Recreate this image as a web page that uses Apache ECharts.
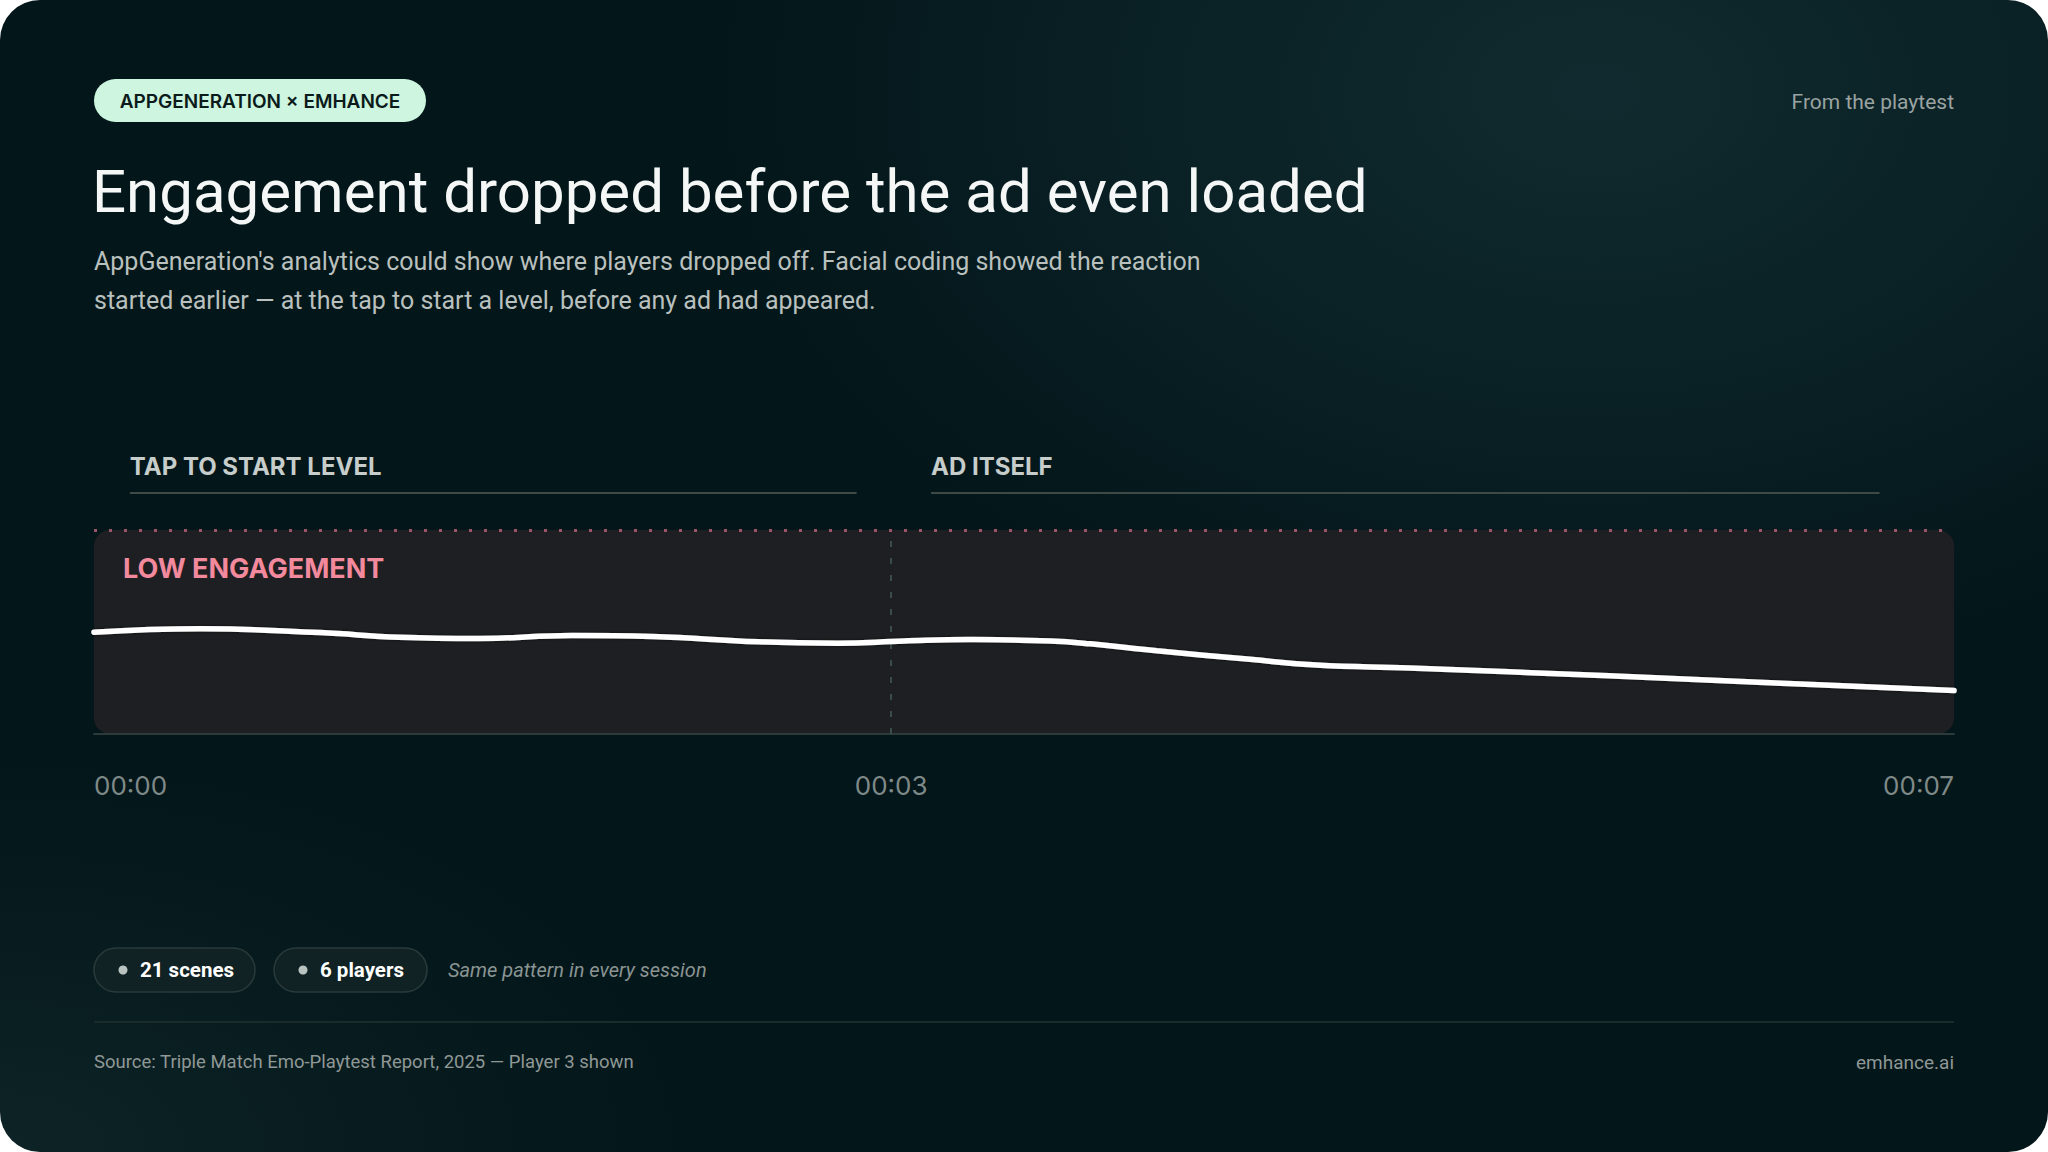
<!DOCTYPE html>
<html>
<head>
<meta charset="utf-8">
<script src="https://cdn.jsdelivr.net/npm/echarts@6/dist/echarts.min.js"></script>
<style>
  html, body { margin: 0; padding: 0; background: #ffffff; }
  #card {
    position: absolute; left: 0; top: 0; width: 2048px; height: 1152px;
    border-radius: 40px; overflow: hidden;
    background:
      radial-gradient(ellipse 900px 600px at 78% 8%, rgba(22,52,56,0.7) 0%, rgba(22,52,56,0) 100%),
      radial-gradient(ellipse 700px 400px at 0% 100%, rgba(20,44,46,0.6) 0%, rgba(20,44,46,0) 100%),
      #03161a;
  }
  #chart { width: 2048px; height: 1152px; }
</style>
</head>
<body>
<div id="card"><div id="chart"></div></div>
<script>
// ---- data ----
const timeTicks = [0, 3, 7];                       // seconds shown on the axis
const engagementTime  = [0, 0.4, 0.85, 1.15, 1.45, 1.8, 2.1, 2.5, 2.8, 3.05, 3.3, 3.6, 3.75, 4.0, 4.35, 4.6, 4.95, 5.7, 6.35, 7.0];
const engagementValue = [49.9, 51.6, 49.7, 47.4, 46.8, 48.3, 47.8, 45.2, 44.5, 45.6, 46.3, 45.6, 44.2, 40.8, 36.6, 33.8, 32.3, 28.5, 24.9, 21.3];
const lowZoneTop = 100;                            // top of the low-engagement band
const adStart = 3;                                 // ad begins at 00:03
const sectionNames = ['TAP TO START LEVEL', 'AD ITSELF'];
const sectionStart = [0.135, 3.15];
const sectionEnd   = [2.87, 6.72];
const statLabels = ['21 scenes', '6 players'];

const FONT = 'Inter, "Noto Sans", sans-serif';
const BODY = 'Roboto, Inter, sans-serif';
const seriesData = engagementTime.map((t, i) => [t, engagementValue[i]]);
const fmt = v => '00:0' + Math.round(v);

const chart = echarts.init(document.getElementById('chart'), null, { renderer: 'svg', width: 2048, height: 1152 });

const grid = { left: 94, right: 94, top: 530, bottom: 418 };

chart.setOption({
  animation: false,
  backgroundColor: 'transparent',
  grid: grid,
  xAxis: {
    type: 'value', min: 0, max: 7,
    axisLine: { show: true, lineStyle: { color: '#2d3a3a', width: 2 } },
    axisTick: { show: false },
    splitLine: { show: false },
    axisLabel: {
      customValues: timeTicks,
      formatter: fmt,
      color: '#7f8a88', fontSize: 26, fontFamily: FONT, margin: 38,
      alignMinLabel: 'left', alignMaxLabel: 'right'
    }
  },
  yAxis: { type: 'value', min: 0, max: 100, show: false },
  series: [{
    type: 'line',
    data: seriesData,
    smooth: 0.45,
    symbol: 'none',
    clip: false,
    z: 5,
    lineStyle: { color: '#ffffff', width: 5.5, cap: 'round', shadowColor: 'rgba(0,0,0,0.7)', shadowBlur: 3 },
    markLine: {
      silent: true, symbol: 'none', label: { show: false },
      data: [
        { yAxis: lowZoneTop, lineStyle: { color: '#9b5566', type: [3, 12], width: 3 } },
        { xAxis: adStart, lineStyle: { color: '#3a4b4c', type: [6, 11], width: 2 } }
      ]
    }
  }]
});

// positions derived from the chart's own scales
const p0 = chart.convertToPixel({ gridIndex: 0 }, [0, lowZoneTop]);
const p1 = chart.convertToPixel({ gridIndex: 0 }, [7, 0]);
const boxX = p0[0], boxY = p0[1], boxW = p1[0] - p0[0], boxH = p1[1] - p0[1];

const graphics = [
  // plot band
  { type: 'rect', z: -10, shape: { x: boxX, y: boxY, width: boxW, height: boxH, r: 16 }, style: { fill: '#1e1f22' } },
  { type: 'text', z: 10, style: { text: 'LOW ENGAGEMENT', x: boxX + 29, y: boxY + 38, fill: '#f2899d', font: '700 27px ' + FONT, textVerticalAlign: 'middle' } },

  // header
  { type: 'rect', shape: { x: 94, y: 79, width: 332, height: 43, r: 21.5 }, style: { fill: '#cdf5df' } },
  { type: 'text', style: { text: 'APPGENERATION × EMHANCE', x: 260, y: 101, fill: '#0b1a1a', font: '600 19px ' + FONT, textAlign: 'center', textVerticalAlign: 'middle' } },
  { type: 'text', style: { text: 'From the playtest', x: 1954, y: 102, fill: '#9aa3a1', font: '400 21px ' + BODY, textAlign: 'right', textVerticalAlign: 'middle' } },
  { type: 'text', style: { text: 'Engagement dropped before the ad even loaded', x: 92, y: 191, fill: '#f4f7f6', font: '400 60px ' + BODY, textVerticalAlign: 'middle' } },
  { type: 'text', style: { text: "AppGeneration's analytics could show where players dropped off. Facial coding showed the reaction", x: 94, y: 261, fill: '#b9c0be', font: '400 25px ' + BODY, textVerticalAlign: 'middle' } },
  { type: 'text', style: { text: 'started earlier — at the tap to start a level, before any ad had appeared.', x: 94, y: 300, fill: '#b9c0be', font: '400 25px ' + BODY, textVerticalAlign: 'middle' } },

  // footer
  { type: 'line', shape: { x1: 94, y1: 1022, x2: 1954, y2: 1022 }, style: { stroke: '#1a2b2c', lineWidth: 2 } },
  { type: 'text', style: { text: 'Source: Triple Match Emo-Playtest Report, 2025 — Player 3 shown', x: 94, y: 1062, fill: '#8f9896', font: '400 18.5px ' + BODY, textVerticalAlign: 'middle' } },
  { type: 'text', style: { text: 'emhance.ai', x: 1954, y: 1062, fill: '#8f9896', font: '400 19px ' + BODY, textAlign: 'right', textVerticalAlign: 'middle' } },
  { type: 'text', style: { text: 'Same pattern in every session', x: 448, y: 970, fill: '#8a9492', font: 'italic 400 20px ' + BODY, textVerticalAlign: 'middle' } }
];

// section brackets above the chart
sectionNames.forEach((name, i) => {
  const xs = chart.convertToPixel({ gridIndex: 0 }, [sectionStart[i], lowZoneTop])[0];
  const xe = chart.convertToPixel({ gridIndex: 0 }, [sectionEnd[i], lowZoneTop])[0];
  graphics.push({ type: 'text', style: { text: name, x: xs, y: 466, fill: '#c6cdcb', font: '700 24px ' + FONT, textVerticalAlign: 'middle' } });
  graphics.push({ type: 'line', shape: { x1: xs, y1: 493, x2: xe, y2: 493 }, style: { stroke: '#3d4a48', lineWidth: 2 } });
});

// stat pills
const pillX = [94, 274];
const pillW = [161, 153];
statLabels.forEach((s, i) => {
  graphics.push({ type: 'rect', shape: { x: pillX[i], y: 948, width: pillW[i], height: 44, r: 22 }, style: { fill: '#102224', stroke: '#2a3a3a', lineWidth: 1.5 } });
  graphics.push({ type: 'circle', shape: { cx: pillX[i] + 29, cy: 970, r: 4.5 }, style: { fill: '#b9c4c1' } });
  graphics.push({ type: 'text', style: { text: s, x: pillX[i] + 46, y: 970, fill: '#ffffff', font: '700 20.5px ' + BODY, textVerticalAlign: 'middle' } });
});

chart.setOption({ graphic: { elements: graphics } });
</script>
</body>
</html>
